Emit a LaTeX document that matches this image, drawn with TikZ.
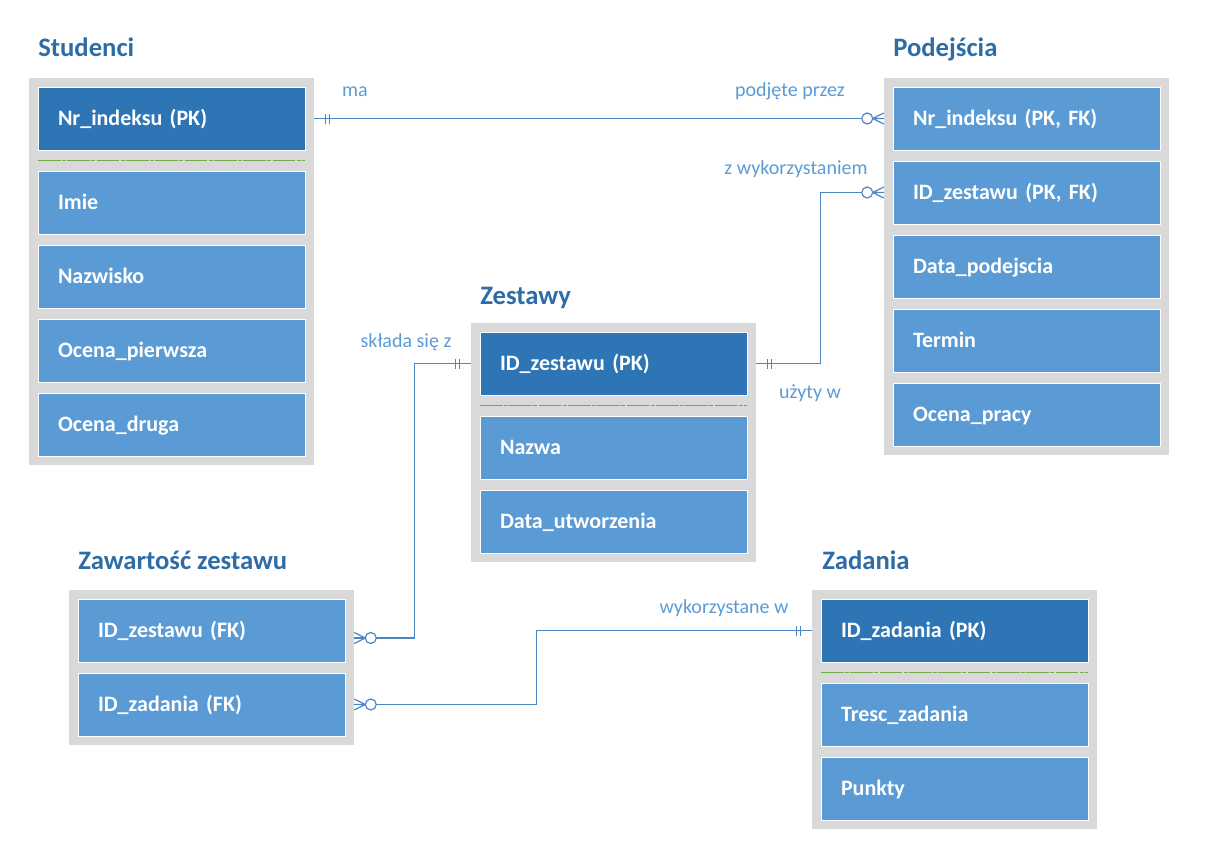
\documentclass[tikz,border=0pt]{standalone}
\usepackage{fontspec}
\setmainfont{Carlito}
\usepackage{tikz}
\usetikzlibrary{positioning, calc, fit, backgrounds}
\definecolor{KeyBlue}{RGB}{46,117,182}
\definecolor{FieldBlue}{RGB}{91,155,213}
\definecolor{TableGrey}{RGB}{217,217,217}
\definecolor{TitleBlue}{RGB}{46,108,166}
\definecolor{RelBlue}{RGB}{78,134,196}
\definecolor{SepGreen}{RGB}{112,173,71}

\begin{document}
\begin{tikzpicture}[
  x=0.75pt, y=-0.75pt,
  node distance=8.25pt,
  field/.style={rectangle, draw=white, line width=0.75pt, fill=FieldBlue,
    minimum width=200.25pt, minimum height=47.25pt, outer sep=0pt,
    inner xsep=15pt, text width=170.25pt, align=left, text=white,
    text height=10.6pt, text depth=0pt,
    font=\fontsize{16.5}{19}\selectfont\bfseries},
  keyfield/.style={field, fill=KeyBlue},
  tablebox/.style={rectangle, fill=TableGrey, inner sep=6.75pt},
  title/.style={anchor=base west, text=TitleBlue, inner sep=0pt,
    font=\fontsize{20}{24}\selectfont\bfseries},
  rellabel/.style={anchor=base, text=FieldBlue, inner sep=0pt,
    font=\fontsize{15}{18}\selectfont},
  rel/.style={draw=RelBlue, line width=0.9pt},
  sepline/.style={draw=SepGreen, line width=1.1pt,
    dash pattern=on 17pt off 1pt on 3pt off 1pt},
  manyend/.pic={
    \draw[rel] (0,-5.5) -- (-11,0) -- (0,5.5) (0,0) -- (-11,0);
    \draw[rel, fill=white] (-16.5,0) circle (5.5);
  },
  oneend/.pic={
    \draw[rel] (-11,-5) -- (-11,5) (-15,-5) -- (-15,5);
  }
]
  \useasboundingbox (0,0) rectangle (1221,861);

  % Studenci
  \node[keyfield, anchor=north west] (stu1) at (38,87) {Nr\_indeksu (PK)};
  \node[field, below=15.75pt of stu1] (stu2) {Imie};
  \node[field, below=of stu2] (stu3) {Nazwisko};
  \node[field, below=of stu3] (stu4) {Ocena\_pierwsza};
  \node[field, below=of stu4] (stu5) {Ocena\_druga};

  % Podejscia
  \node[field, anchor=north west] (pod1) at (893,87) {Nr\_indeksu (PK, FK)};
  \node[field, below=of pod1] (pod2) {ID\_zestawu (PK, FK)};
  \node[field, below=of pod2] (pod3) {Data\_podejscia};
  \node[field, below=of pod3] (pod4) {Termin};
  \node[field, below=of pod4] (pod5) {Ocena\_pracy};

  % Zestawy
  \node[keyfield, anchor=north west] (zes1) at (480,332) {ID\_zestawu (PK)};
  \node[field, below=15.75pt of zes1] (zes2) {Nazwa};
  \node[field, below=of zes2] (zes3) {Data\_utworzenia};

  % Zawartosc zestawu
  \node[field, anchor=north west] (zaw1) at (78,599) {ID\_zestawu (FK)};
  \node[field, below=of zaw1] (zaw2) {ID\_zadania (FK)};

  % Zadania
  \node[keyfield, anchor=north west] (zad1) at (821,599) {ID\_zadania (PK)};
  \node[field, below=15.75pt of zad1] (zad2) {Tresc\_zadania};
  \node[field, below=of zad2] (zad3) {Punkty};

  \begin{scope}[on background layer]
    \node[tablebox, fit=(stu1)(stu5)] (stu) {};
    \node[tablebox, fit=(pod1)(pod5)] (pod) {};
    \node[tablebox, fit=(zes1)(zes3)] (zes) {};
    \node[tablebox, fit=(zaw1)(zaw2)] (zaw) {};
    \node[tablebox, fit=(zad1)(zad3)] (zad) {};
  \end{scope}

  \draw[sepline] ($(stu1.south west)!0.5!(stu2.north west)$) -- ($(stu1.south east)!0.5!(stu2.north east)$);
  \draw[sepline] ($(zes1.south west)!0.5!(zes2.north west)$) -- ($(zes1.south east)!0.5!(zes2.north east)$);
  \draw[sepline] ($(zad1.south west)!0.5!(zad2.north west)$) -- ($(zad1.south east)!0.5!(zad2.north east)$);

  \node[title] (stu-title) at (38,56) {Studenci};
  \node[title] (pod-title) at (893,56) {Podejścia};
  \node[title] (zes-title) at (480,304) {Zestawy};
  \node[title] (zaw-title) at (78,569) {Zawartość zestawu};
  \node[title] (zad-title) at (822,569) {Zadania};

  % relationships
  \draw[rel] (stu.east |- stu1) -- (pod.west |- pod1);
  \pic[rotate=180] at (stu.east |- stu1) {oneend};
  \pic at (pod.west |- pod1) {manyend};

  \draw[rel] (zes.east |- zes1) -- ++(64,0) |- (pod.west |- pod2);
  \pic[rotate=180] at (zes.east |- zes1) {oneend};
  \pic at (pod.west |- pod2) {manyend};

  \coordinate (zaw-in) at ($(zaw.east |- zaw1)+(0,7.5)$);
  \draw[rel] (zes.west |- zes1) -- ++(-56,0) |- (zaw-in);
  \pic at (zes.west |- zes1) {oneend};
  \pic[rotate=180] at (zaw-in) {manyend};

  \draw[rel] (zad.west |- zad1) -- ++(-275,0) |- (zaw.east |- zaw2);
  \pic at (zad.west |- zad1) {oneend};
  \pic[rotate=180] at (zaw.east |- zaw2) {manyend};

  \node[rellabel] (lab-ma) at (355,96) {ma};
  \node[rellabel] (lab-podjete) at (790,96) {podjęte przez};
  \node[rellabel] (lab-zwyk) at (796,174) {z wykorzystaniem};
  \node[rellabel] (lab-uzyty) at (810,398) {użyty w};
  \node[rellabel] (lab-sklada) at (406,347) {składa się z};
  \node[rellabel] (lab-wyk) at (724,613) {wykorzystane w};
\end{tikzpicture}
\end{document}
